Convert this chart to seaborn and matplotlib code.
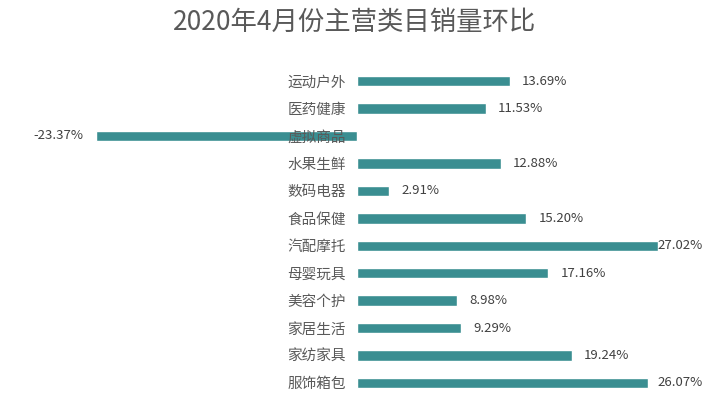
import pandas as pd
import matplotlib
matplotlib.use("Agg")
import matplotlib.pyplot as plt
import seaborn as sns

categories = ["运动户外", "医药健康", "虚拟商品", "水果生鲜", "数码电器", "食品保健",
              "汽配摩托", "母婴玩具", "美容个护", "家居生活", "家纺家具", "服饰箱包"]
growth = [13.69, 11.53, -23.37, 12.88, 2.91, 15.20, 27.02, 17.16, 8.98, 9.29, 19.24, 26.07]

sns.set_theme(style="white")
plt.rcParams["font.family"] = ["Noto Sans CJK SC", "DejaVu Sans"]

df = pd.DataFrame({"category": categories, "growth": growth})

W, H = 710, 417
fig = plt.figure(figsize=(W / 100, H / 100), dpi=100)
# axes box in pixels: left 20, right 700, top 60, bottom 395
ax = fig.add_axes([20 / W, (H - 395) / H, 680 / W, 335 / H])

sns.barplot(data=df, x="growth", y="category", orient="h", color="#3A8E91",
            width=0.38, saturation=1, ax=ax)

ax.set_xlim(-30.22, 30.76)
ax.set_ylim(11.44, -0.77)
ax.set_xlabel("")
ax.set_ylabel("")
ax.set_xticks([])
ax.set_axisbelow(False)  # category names sit on top of the negative bar
for s in ax.spines.values():
    s.set_visible(False)
ax.spines["left"].set_position(("data", 0))
ax.tick_params(axis="y", length=0, pad=8, labelsize=10.5, labelcolor="#595959")

labels = []
for i, v in enumerate(growth):
    if v >= 0:
        t = ax.annotate(f"{v:.2f}%", (v, i), xytext=(9, 0), textcoords="offset points",
                        ha="left", va="center", fontsize=9.5, color="#404040")
    else:
        t = ax.annotate(f"{v:.2f}%", (v, i), xytext=(-9, 0), textcoords="offset points",
                        ha="right", va="center", fontsize=9.5, color="#404040")
    labels.append(t)

# keep labels inside the figure, like the original does for the longest bar
fig.canvas.draw()
r = fig.canvas.get_renderer()
for t in labels:
    bb = t.get_window_extent(r)
    if bb.x1 > W - 7:
        dx = (bb.x1 - (W - 7)) * 72 / 100
        x0, y0 = t.xyann
        t.xyann = (x0 - dx, y0)

fig.suptitle("2020年4月份主营类目销量环比", x=0.5, y=1 - 22 / H, va="center",
             fontsize=19, color="#595959")

fig.savefig("out.png", dpi=100)
